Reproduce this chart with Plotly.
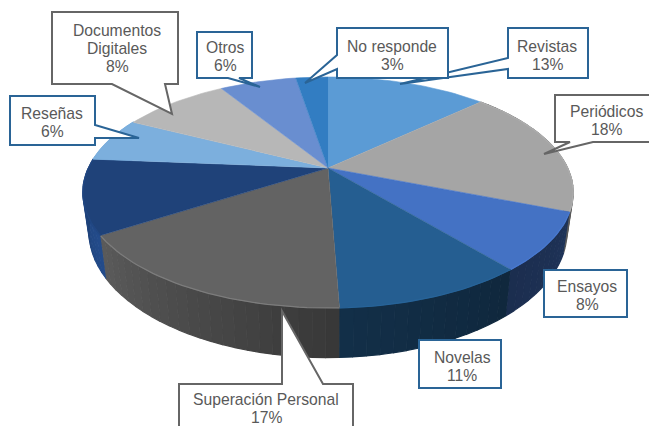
import math
import plotly.graph_objects as go

# Slice shares (the printed labels are rounded differently)
slices = ['Revistas', 'Periódicos', 'Ensayos', 'Novelas', 'Superación Personal',
          'Sin etiqueta', 'Reseñas', 'Documentos Digitales', 'Otros', 'No responde']
shares = [13, 18, 8, 10.4, 16.5, 10.4, 6.2, 8.7, 6.2, 2.6]
colors = ['#5B9BD5', '#A5A5A5', '#4472C4', '#255E91', '#636363',
          '#1F4279', '#7CAFDD', '#B7B7B7', '#698ED0', '#327DC2']
# Wall shading at the start and end of each slice (multiplier on the top colour)
wall_a = [1, 0.55, 0.45, 0.42, 0.56, 1.15, 1, 1, 1, 1]
wall_b = [1, 0.55, 0.40, 0.50, 0.92, 0.90, 1, 1, 1, 1]
# Brightness of the thin bevel along the rim
bevel = [1, 1.05, 1.06, 1.05, 1.25, 1.08, 1, 1, 1, 1]

# Perspective of the tilted disc
CX, CY = 328, 168
A, B, K = 239.6, 110.3, 0.212
BOTTOM_X, BOTTOM_Y, BOTTOM_DY = 0.975, 1.09, 205


def top_pt(theta):
    u, v = math.sin(theta), math.cos(theta)
    d = 1 + K * v
    return CX + A * u / d, CY - B * v / d


def bottom_pt(theta):
    x, y = top_pt(theta)
    return CX + (x - CX) * BOTTOM_X, BOTTOM_DY + (y - CY) * BOTTOM_Y


def shade(color, f):
    rgb = [int(color[i:i + 2], 16) for i in (1, 3, 5)]
    return 'rgb(%d,%d,%d)' % tuple(min(255, round(c * f)) for c in rgb)


total = sum(shares)
edges = [0]
for s in shares:
    edges.append(edges[-1] + s / total * 2 * math.pi)

fig = go.Figure()


def poly(xs, ys, color, width=0.6):
    fig.add_trace(go.Scatter(x=xs, y=ys, mode='lines', fill='toself', fillcolor=color,
                             line=dict(color=color, width=width), hoverinfo='skip',
                             showlegend=False))


# Side wall, split in thin strips to get the gradient
for i, name in enumerate(slices):
    a, b = edges[i], edges[i + 1]
    if b < math.radians(85) or a > math.radians(285):
        continue
    n = max(2, int((b - a) / math.radians(2.5)))
    for j in range(n):
        t0 = a + (b - a) * j / n
        t1 = a + (b - a) * (j + 1) / n
        p = [top_pt(t0), top_pt(t1), bottom_pt(t1), bottom_pt(t0)]
        f = wall_a[i] + (wall_b[i] - wall_a[i]) * (j + 0.5) / n
        poly([q[0] for q in p], [q[1] for q in p], shade(colors[i], f), width=1.2)

# Top of the disc
for i, name in enumerate(slices):
    a, b = edges[i], edges[i + 1]
    n = max(4, int((b - a) / math.radians(1.5)))
    pts = [top_pt(a + (b - a) * j / n) for j in range(n + 1)]
    poly([CX] + [q[0] for q in pts], [CY] + [q[1] for q in pts], colors[i])
    # soft bevel along the front rim
    if math.radians(100) < b and a < math.radians(280):
        fig.add_trace(go.Scatter(x=[q[0] for q in pts], y=[q[1] for q in pts], mode='lines',
                                 line=dict(color=shade(colors[i], bevel[i]), width=1.3),
                                 hoverinfo='skip', showlegend=False))

GRAY = '#666666'
BLUE = '#2A6496'


def callout(points, color):
    path = 'M ' + ' L '.join('%g %g' % p for p in points) + ' Z'
    return dict(type='path', path=path, xref='x', yref='y', fillcolor='white',
                line=dict(color=color, width=2))


shapes = [
    callout([(52, 12), (178, 12), (178, 84), (165, 84), (172, 114), (112, 84), (52, 84)], GRAY),
    callout([(197, 32), (252, 32), (252, 78), (239, 78), (260, 87), (228, 78), (197, 78)], BLUE),
    callout([(10, 96), (95, 96), (95, 125), (139, 138), (95, 138), (95, 145), (10, 145)], BLUE),
    callout([(508, 28), (588, 28), (588, 78), (508, 78), (508, 69), (400, 84), (508, 58)], BLUE),
    callout([(337, 28), (448, 28), (448, 78), (337, 78), (337, 69), (305, 83), (337, 55)], BLUE),
    callout([(555, 95), (660, 95), (660, 142), (593, 142), (544, 154), (570, 142), (555, 142)], GRAY),
    callout([(544, 270), (627, 270), (627, 317), (544, 317)], BLUE),
    callout([(419, 340), (501, 340), (501, 388), (419, 388)], BLUE),
    callout([(179, 384), (282, 384), (282, 311), (323, 384), (353, 384), (353, 440), (179, 440)], GRAY),
]

# Label text: (centre x, centre y of the first line, lines)
labels = [
    (117, 30, ['Documentos', 'Digitales', '8%']),
    (225, 47, ['Otros', '6%']),
    (52, 113, ['Reseñas', '6%']),
    (392, 46, ['No responde', '3%']),
    (547, 46, ['Revistas', '13%']),
    (606, 111, ['Periódicos', '18%']),
    (587, 286, ['Ensayos', '8%']),
    (462, 357, ['Novelas', '11%']),
    (266, 399, ['Superación Personal', '17%']),
]
annotations = []
for lx, ly, lines in labels:
    for k, line in enumerate(lines):
        annotations.append(dict(x=lx, y=ly + k * 18, text=line, showarrow=False,
                                xref='x', yref='y', xanchor='center', yanchor='middle',
                                font=dict(family='Liberation Sans', size=15.7, color='#595959')))

fig.update_layout(
    width=649, height=426,
    margin=dict(l=0, r=0, t=0, b=0),
    paper_bgcolor='white', plot_bgcolor='white',
    showlegend=False,
    shapes=shapes,
    annotations=annotations,
    xaxis=dict(range=[0, 649], visible=False, fixedrange=True),
    yaxis=dict(range=[426, 0], visible=False, fixedrange=True),
)

# the page's default body margin would push the figure 8px off
fig.write_html('out.html', config=dict(displayModeBar=False),
               post_script='document.body.style.margin="0";document.body.style.overflow="hidden";')
